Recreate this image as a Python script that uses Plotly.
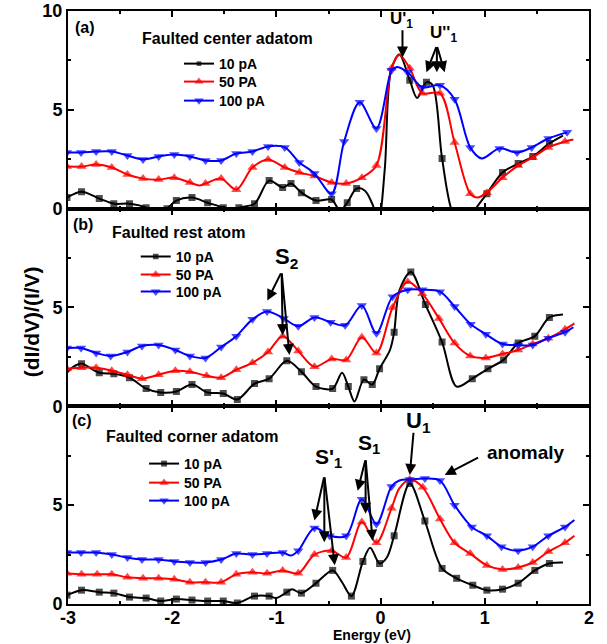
import plotly.graph_objects as go
from plotly.subplots import make_subplots

# ---------------- data ----------------
series_names = ["10 pA", "50 PA", "100 pA"]
series_colors = ["#000000", "#ff0000", "#0000ff"]
series_symbols = ["square", "triangle-up", "triangle-down"]
series_msize = [7, 9, 9]

# Panel (a) Faulted center adatom
a_black_x = [-3.01,-2.87,-2.70,-2.56,-2.41,-2.25,-2.15,-2.05,-1.96,-1.81,-1.66,-1.51,-1.43,-1.36,-1.21,-1.07,-0.94,-0.86,-0.76,-0.62,-0.47,-0.39,-0.32,-0.23,-0.15,-0.08,-0.02,0.04,0.10,0.18,0.28,0.35,0.44,0.50,0.59,0.69,0.80,0.92,1.02,1.17,1.32,1.46,1.62,1.75]
a_black_y = [0.56,0.86,0.51,0.25,0.25,0.05,-0.35,0.0,0.41,0.56,0.30,0.05,-0.2,0.05,0.25,1.42,1.07,1.27,0.81,0.41,0.46,-0.1,0.30,1.02,0.91,0.25,-0.6,2.0,7.0,7.8,6.5,5.6,6.4,6.24,2.54,-0.2,-1.0,0.05,0.76,1.83,2.28,2.64,3.30,3.7]
a_black_m = [1,1,1,1,1,1,0,1,1,1,1,1,0,1,1,1,1,1,1,1,1,0,1,1,0,0,0,0,0,0,1,0,1,0,1,0,0,0,1,1,1,1,1,0]

a_red_x = [-3.01,-2.87,-2.73,-2.58,-2.43,-2.28,-2.13,-1.98,-1.83,-1.74,-1.68,-1.53,-1.385,-1.23,-1.08,-0.92,-0.78,-0.635,-0.47,-0.33,-0.18,-0.04,0.105,0.18,0.28,0.40,0.57,0.71,0.86,0.93,1.02,1.17,1.32,1.46,1.61,1.77,1.85]
a_red_y = [2.13,2.13,2.23,2.08,1.73,1.52,1.47,1.57,1.32,1.17,1.27,1.52,0.96,2.08,2.49,2.08,1.83,1.65,1.32,1.27,1.57,2.18,7.1,7.77,7.1,5.84,5.84,3.35,0.76,0.56,0.81,1.57,2.18,2.59,3.10,3.40,3.50]
a_red_m = [1,1,1,1,1,1,1,1,1,0,1,1,1,1,1,1,1,1,1,1,1,1,1,0,1,1,1,1,1,0,1,1,1,1,1,1,0]

a_blue_x = [-3.01,-2.875,-2.73,-2.58,-2.43,-2.28,-2.13,-1.98,-1.83,-1.68,-1.53,-1.385,-1.23,-1.08,-0.92,-0.78,-0.635,-0.47,-0.35,-0.20,-0.04,0.105,0.15,0.26,0.40,0.57,0.71,0.86,0.97,1.14,1.31,1.45,1.61,1.79]
a_blue_y = [2.84,2.84,2.89,2.89,2.69,2.49,2.64,2.74,2.64,2.44,2.44,2.79,2.89,3.15,3.1,2.34,1.78,0.76,3.40,5.38,4.06,7.0,7.16,6.9,6.14,6.24,5.53,3.10,2.54,3.05,2.84,3.10,3.55,3.86]
a_blue_m = [1,1,1,1,1,1,1,1,1,1,1,1,1,1,1,1,1,1,1,1,1,1,0,1,1,1,1,1,0,1,1,1,1,1]

# Panel (b) Faulted rest atom
b_black_x = [-3.01,-2.95,-2.87,-2.70,-2.56,-2.41,-2.25,-2.11,-1.96,-1.81,-1.66,-1.51,-1.375,-1.21,-1.07,-0.90,-0.76,-0.62,-0.46,-0.37,-0.31,-0.25,-0.16,-0.08,-0.01,0.09,0.13,0.18,0.29,0.43,0.59,0.73,0.88,1.03,1.18,1.32,1.48,1.62,1.75]
b_black_y = [1.7,2.0,2.15,1.7,1.65,1.45,0.9,0.7,0.75,1.1,0.7,0.65,0.35,1.15,1.4,2.3,1.75,1.0,0.9,1.7,1.0,0.25,1.35,1.1,1.9,2.85,3.75,5.85,6.8,5.15,3.25,1.0,1.4,1.9,2.35,3.2,3.55,4.5,4.65]
b_black_m = [0,0,1,1,1,1,1,1,1,1,1,1,1,1,1,1,1,1,1,0,1,0,1,1,1,0,1,0,1,1,1,0,1,1,1,1,1,1,0]

b_red_x = [-3.01,-2.87,-2.73,-2.58,-2.43,-2.29,-2.13,-1.97,-1.83,-1.67,-1.53,-1.385,-1.23,-1.08,-0.94,-0.79,-0.635,-0.47,-0.33,-0.18,-0.04,0.115,0.26,0.40,0.56,0.71,0.86,1.01,1.17,1.32,1.46,1.61,1.77,1.86]
b_red_y = [1.9,1.95,1.95,1.8,1.6,1.4,1.6,1.8,1.75,1.55,1.45,1.85,2.2,2.75,3.55,2.8,2.0,2.4,2.35,3.5,2.7,5.0,6.3,5.7,4.45,3.2,2.55,2.45,2.65,2.85,3.15,3.45,3.9,4.2]
b_red_m = [1,1,1,1,1,1,1,1,1,1,1,1,1,1,1,1,1,1,1,1,1,1,1,1,1,1,1,1,1,1,1,1,1,0]

b_blue_x = [-3.01,-2.875,-2.73,-2.59,-2.43,-2.29,-2.13,-1.97,-1.83,-1.68,-1.53,-1.385,-1.23,-1.09,-0.93,-0.79,-0.635,-0.48,-0.34,-0.18,-0.04,0.115,0.26,0.40,0.57,0.71,0.865,1.01,1.17,1.32,1.46,1.61,1.77,1.85]
b_blue_y = [2.95,2.95,2.7,2.55,2.75,3.05,3.1,2.85,2.55,2.45,3.0,3.55,4.4,4.8,4.45,4.05,4.5,4.25,4.1,5.1,3.7,5.55,5.9,5.9,5.8,5.05,4.15,3.65,3.15,3.1,3.1,3.45,3.75,4.0]
b_blue_m = [1,1,1,1,1,1,1,1,1,1,1,1,1,1,1,1,1,1,1,1,1,1,1,1,1,1,1,1,1,1,1,1,1,0]

# Panel (c) Faulted corner adatom
c_black_x = [-3.01,-2.87,-2.70,-2.56,-2.41,-2.25,-2.11,-1.96,-1.81,-1.66,-1.51,-1.375,-1.21,-1.07,-1.0,-0.90,-0.85,-0.76,-0.62,-0.46,-0.37,-0.28,-0.17,-0.10,-0.01,0.06,0.13,0.28,0.425,0.59,0.73,0.885,1.02,1.17,1.32,1.48,1.62,1.75]
c_black_y = [0.45,0.7,0.6,0.55,0.35,0.3,0.15,0.25,0.2,0.15,0.15,0.05,0.4,0.4,0.3,0.6,0.75,0.55,1.05,1.7,1.1,0.4,2.15,2.85,2.05,2.35,3.45,6.1,4.2,1.8,1.3,0.95,0.7,0.75,1.05,1.7,2.05,2.1]
c_black_m = [1,1,1,1,1,1,1,1,1,1,1,1,1,1,0,1,0,1,1,1,0,1,1,0,1,0,1,1,1,1,1,1,1,1,1,1,1,0]

c_red_x = [-3.01,-2.87,-2.72,-2.58,-2.43,-2.28,-2.13,-1.98,-1.83,-1.68,-1.53,-1.385,-1.23,-1.09,-0.94,-0.79,-0.635,-0.47,-0.33,-0.18,-0.04,0.105,0.18,0.28,0.405,0.57,0.71,0.86,1.02,1.17,1.32,1.46,1.61,1.77,1.86]
c_red_y = [1.55,1.5,1.5,1.5,1.35,1.3,1.3,1.25,1.1,1.1,1.1,1.5,1.6,1.55,1.7,1.55,2.5,2.7,2.35,4.15,3.1,4.85,5.85,6.3,5.9,4.3,3.1,2.55,1.95,1.75,1.85,2.1,2.65,3.1,3.45]
c_red_m = [1,1,1,1,1,1,1,1,1,1,1,1,1,1,1,1,1,1,1,1,1,1,0,1,1,1,1,1,1,1,1,1,1,1,0]

c_blue_x = [-3.01,-2.875,-2.73,-2.58,-2.43,-2.29,-2.13,-1.98,-1.83,-1.68,-1.53,-1.385,-1.23,-1.09,-0.94,-0.86,-0.79,-0.635,-0.49,-0.33,-0.18,-0.04,0.105,0.18,0.28,0.425,0.57,0.71,0.875,1.02,1.16,1.32,1.46,1.61,1.77,1.86]
c_blue_y = [2.6,2.6,2.6,2.5,2.35,2.25,2.25,2.15,2.1,2.1,2.25,2.55,2.5,2.55,2.6,2.45,2.7,3.85,3.45,3.45,5.3,4.05,5.95,6.25,6.3,6.35,6.25,5.0,3.9,3.45,2.9,2.7,2.9,3.45,3.9,4.25]
c_blue_m = [1,1,1,1,1,1,1,1,1,1,1,1,1,1,1,0,1,1,1,1,1,1,1,0,1,1,1,1,1,1,1,1,1,1,1,0]

panels = [
    [(a_black_x, a_black_y, a_black_m), (a_red_x, a_red_y, a_red_m), (a_blue_x, a_blue_y, a_blue_m)],
    [(b_black_x, b_black_y, b_black_m), (b_red_x, b_red_y, b_red_m), (b_blue_x, b_blue_y, b_blue_m)],
    [(c_black_x, c_black_y, c_black_m), (c_red_x, c_red_y, c_red_m), (c_blue_x, c_blue_y, c_blue_m)],
]
panel_titles = ["Faulted center adatom", "Faulted rest atom", "Faulted corner adatom"]
x_ticks = [-3, -2, -1, 0, 1, 2]
x_ticktext = ["-3", "-2", "-1", "0", "1", "2"]

# ---------------- figure ----------------
FONT = "Liberation Sans, Arial, sans-serif"
fig = make_subplots(rows=3, cols=1, shared_xaxes=False, vertical_spacing=0)

# one single-item legend per series, so the rows can be spaced like the reference
legend_x = [0.213, 0.130, 0.146]
legend_y = [[0.9106, 0.8803, 0.8482], [0.5852, 0.5548, 0.5261], [0.2361, 0.2040, 0.1737]]
leg_font = dict(family=FONT, size=14, color="black", weight="bold")
legend_layout = {}
li = 0
for r, ser in enumerate(panels, start=1):
    for k, (xs, ys, ms) in enumerate(ser):
        li += 1
        lname = "legend" if li == 1 else f"legend{li}"
        legend_layout[lname] = dict(x=legend_x[r - 1], y=legend_y[r - 1][k], xanchor="left",
                                    yanchor="middle", font=leg_font, bgcolor="rgba(0,0,0,0)",
                                    borderwidth=0, itemwidth=30)
        fig.add_trace(go.Scatter(
            x=xs, y=ys, mode="lines+markers", name=series_names[k],
            line=dict(color=series_colors[k], width=2, shape="spline", smoothing=0.9),
            marker=dict(symbol=series_symbols[k], color=series_colors[k],
                        size=[series_msize[k] if m else 0 for m in ms], line=dict(width=0)),
            legend=lname, showlegend=True,
        ), row=r, col=1)

axis_common = dict(showline=True, linecolor="black", linewidth=2, mirror="ticks",
                   ticks="inside", ticklen=6, tickwidth=1.5, tickcolor="black",
                   showgrid=False, zeroline=False, automargin=False,
                   tickfont=dict(family=FONT, size=18, color="black", weight="bold"))
for r in range(1, 4):
    fig.update_xaxes(range=[-3, 2], tickvals=x_ticks, ticktext=x_ticktext,
                     showticklabels=(r == 3), ticklabelstandoff=-4,
                     minor=dict(dtick=0.5, tick0=0, ticks="inside", ticklen=3, tickcolor="black"),
                     **axis_common, row=r, col=1)
    fig.update_yaxes(range=[0, 10], tickvals=([0, 5, 10] if r == 1 else [0, 5]),
                     minor=dict(dtick=2.5, tick0=0, ticks="inside", ticklen=3, tickcolor="black"),
                     **axis_common, row=r, col=1)

fig.update_layout(
    width=607, height=644,
    margin=dict(l=68, r=18, t=11, b=40),
    plot_bgcolor="white", paper_bgcolor="white",
    **legend_layout,
)

def txt(text, x, y, size, xanchor="center", xref="paper", yref="paper"):
    fig.add_annotation(text=text, x=x, y=y, xref=xref, yref=yref, showarrow=False,
                       xanchor=xanchor, yanchor="middle",
                       font=dict(family=FONT, size=size, color="black", weight="bold"))

# panel letters and titles
txt("(a)", 0.009, 0.972, 16, "left")
txt(panel_titles[0], 0.138, 0.954, 16, "left")
txt("(b)", 0.006, 0.640, 16, "left")
txt(panel_titles[1], 0.081, 0.626, 16, "left")
txt("(c)", 0.003, 0.310, 16, "left")
txt(panel_titles[2], 0.069, 0.282, 16, "left")

# axis titles
fig.add_annotation(text="(dI/dV)/(I/V)", x=-0.070, y=0.476, xref="paper", yref="paper",
                   showarrow=False, textangle=-90, xanchor="center", yanchor="middle",
                   font=dict(family=FONT, size=21, color="black", weight="bold"))
txt("Energy (eV)", 0.583, -0.052, 14)

def arrow(x, y, ax, ay, xr, yr):
    fig.add_annotation(x=x, y=y, ax=ax, ay=ay, xref=xr, yref=yr, axref=xr, ayref=yr,
                       text="", showarrow=True, arrowhead=2, arrowsize=1.1,
                       arrowwidth=2, arrowcolor="black")

# panel (a) labels
txt("U'<sub>1</sub>", 0.20, 9.55, 17, xref="x", yref="y")
arrow(0.21, 7.65, 0.21, 9.1, "x", "y")
txt("U''<sub>1</sub>", 0.60, 8.85, 17, xref="x", yref="y")
arrow(0.44, 6.9, 0.54, 8.25, "x", "y")
arrow(0.54, 6.9, 0.54, 8.25, "x", "y")
arrow(0.615, 6.9, 0.54, 8.25, "x", "y")

# panel (b) labels
txt("S<sub>2</sub>", -0.90, 7.5, 22, xref="x2", yref="y2")
arrow(-1.087, 5.35, -0.95, 6.8, "x2", "y2")
arrow(-0.94, 3.6, -0.95, 6.8, "x2", "y2")
arrow(-0.875, 2.6, -0.95, 6.8, "x2", "y2")

# panel (c) labels
txt("S'<sub>1</sub>", -0.50, 7.4, 21, xref="x3", yref="y3")
arrow(-0.635, 4.22, -0.54, 6.48, "x3", "y3")
arrow(-0.54, 3.12, -0.54, 6.48, "x3", "y3")
arrow(-0.44, 1.96, -0.54, 6.48, "x3", "y3")
txt("S<sub>1</sub>", -0.11, 8.1, 21, xref="x3", yref="y3")
arrow(-0.22, 5.73, -0.144, 7.34, "x3", "y3")
arrow(-0.144, 4.57, -0.144, 7.34, "x3", "y3")
arrow(-0.077, 3.2, -0.144, 7.34, "x3", "y3")
txt("U<sub>1</sub>", 0.36, 9.2, 22, xref="x3", yref="y3")
arrow(0.28, 6.53, 0.317, 8.74, "x3", "y3")
txt("anomaly", 1.40, 7.64, 19, xref="x3", yref="y3")
arrow(0.615, 6.53, 0.95, 7.44, "x3", "y3")

fig.write_html("out.html")
